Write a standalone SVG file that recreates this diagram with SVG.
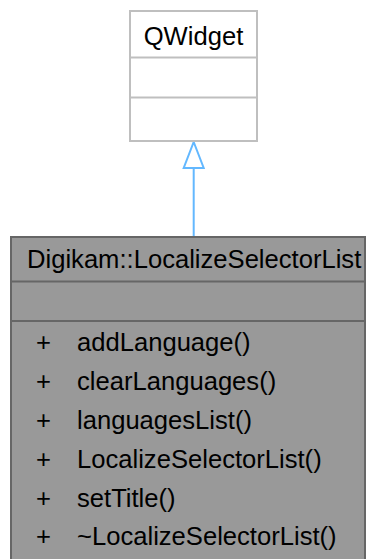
<svg xmlns="http://www.w3.org/2000/svg" width="366" height="559" viewBox="0 0 366 559">
<style>
text{font-family:"Liberation Sans",Arial,sans-serif;font-size:25.6px;fill:#000}
.top{fill:#fff;stroke:#bfbfbf;stroke-width:2}
.topl{stroke:#bfbfbf;stroke-width:2}
.main{fill:#999;stroke:#666;stroke-width:2}
.mainl{stroke:#666;stroke-width:2}
.edge{stroke:#63b8ff;stroke-width:2;fill:none}
.head{fill:#fff;stroke:#63b8ff;stroke-width:2}
</style>
<g id="connectors">
<path class="edge" d="M193.7,237 L193.7,168"/>
<polygon class="head" points="193.7,142 203.7,168 183.7,168"/>
</g>
<g id="QWidget">
<rect class="top" x="130" y="11" width="127" height="130"/>
<line class="topl" x1="130" y1="57.5" x2="257" y2="57.5"/>
<line class="topl" x1="130" y1="97.5" x2="257" y2="97.5"/>
<text x="193.5" y="45" text-anchor="middle">QWidget</text>
</g>
<g id="LocalizeSelectorList">
<rect class="main" x="11" y="237" width="354" height="340"/>
<line class="mainl" x1="11" y1="281.5" x2="365" y2="281.5"/>
<line class="mainl" x1="11" y1="321" x2="365" y2="321"/>
<text x="27" y="268">Digikam::LocalizeSelectorList</text>
<text x="36" y="351">+</text><text x="77" y="351">addLanguage()</text>
<text x="36" y="390">+</text><text x="77" y="390">clearLanguages()</text>
<text x="36" y="429">+</text><text x="77" y="429">languagesList()</text>
<text x="36" y="468">+</text><text x="77" y="468">LocalizeSelectorList()</text>
<text x="36" y="507">+</text><text x="77" y="507">setTitle()</text>
<text x="36" y="545">+</text><text x="77" y="545">~LocalizeSelectorList()</text>
</g>
</svg>
